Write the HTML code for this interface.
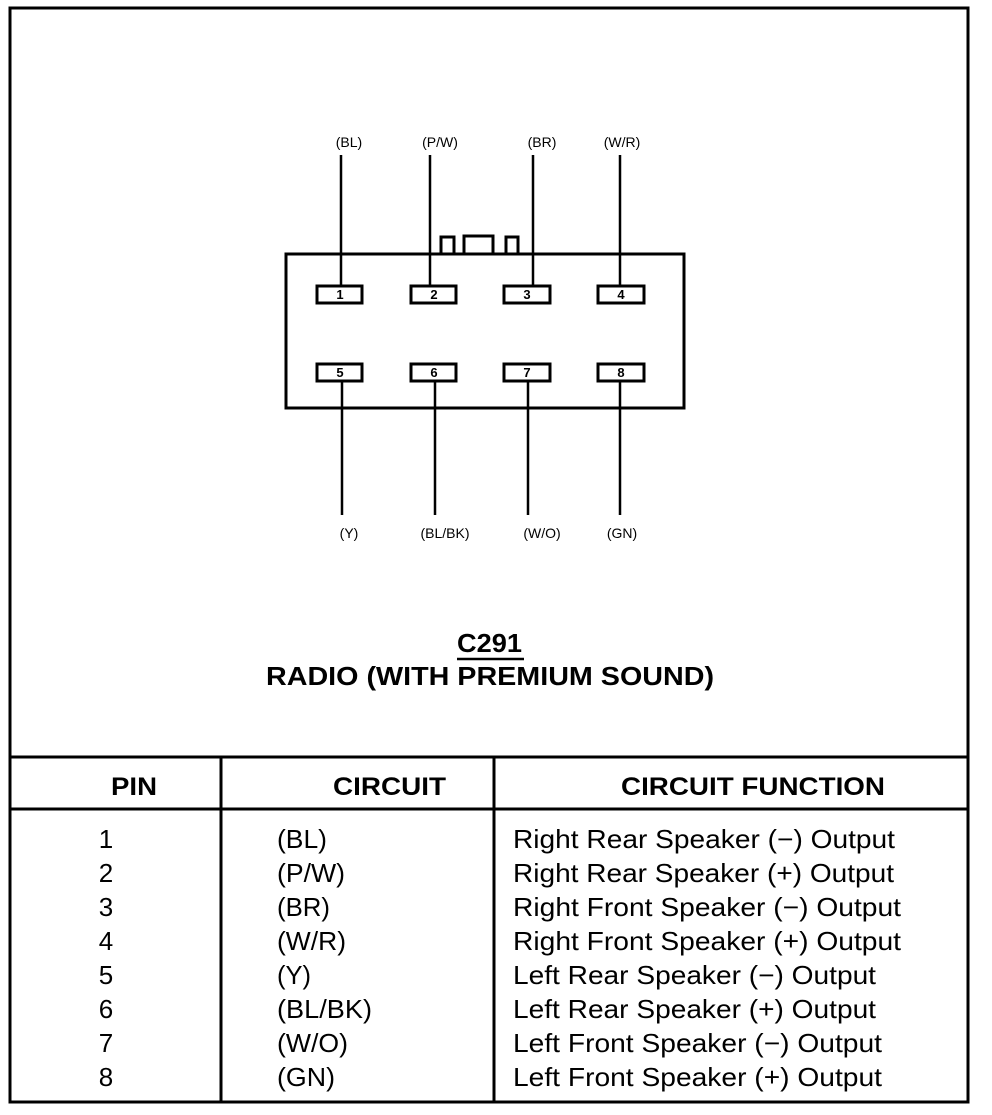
<!DOCTYPE html>
<html><head><style>
body{margin:0;background:#fff;}
svg text{font-family:"Liberation Sans",Arial,sans-serif;fill:#000;}
</style></head><body>
<svg width="992" height="1110" viewBox="0 0 992 1110" xmlns="http://www.w3.org/2000/svg">
<g stroke="#000" fill="none">
<rect x="10" y="8" width="958" height="1094" stroke-width="3"/>
<line x1="10" y1="757" x2="968" y2="757" stroke-width="3"/>
<line x1="10" y1="809" x2="968" y2="809" stroke-width="3"/>
<line x1="221" y1="757" x2="221" y2="1102" stroke-width="3"/>
<line x1="494" y1="757" x2="494" y2="1102" stroke-width="3"/>
<rect x="286" y="254" width="398" height="154" stroke-width="3"/>
<path d="M441 253 V237 H454 V253 M464 253 V236 H493 V253 M506 253 V237 H518 V253" stroke-width="3"/>
<g stroke-width="3">
<rect x="317" y="286" width="45" height="17"/>
<rect x="411" y="286" width="45" height="17"/>
<rect x="504" y="286" width="46" height="17"/>
<rect x="598" y="286" width="46" height="17"/>
<rect x="317" y="364" width="45" height="17"/>
<rect x="411" y="364" width="45" height="17"/>
<rect x="504" y="364" width="46" height="17"/>
<rect x="598" y="364" width="46" height="17"/>
</g>
<g stroke-width="2.5">
<line x1="341" y1="155" x2="341" y2="286"/>
<line x1="430" y1="155" x2="430" y2="286"/>
<line x1="533" y1="155" x2="533" y2="286"/>
<line x1="620" y1="155" x2="620" y2="286"/>
<line x1="342" y1="381" x2="342" y2="515"/>
<line x1="435" y1="381" x2="435" y2="515"/>
<line x1="528" y1="381" x2="528" y2="515"/>
<line x1="620" y1="381" x2="620" y2="515"/>
</g>
<line x1="457" y1="659" x2="524" y2="659" stroke-width="2.5"/>
</g>
<g font-size="14" text-anchor="middle">
<text x="349" y="147">(BL)</text>
<text x="440" y="147">(P/W)</text>
<text x="542" y="147">(BR)</text>
<text x="622" y="147">(W/R)</text>
<text x="349" y="538">(Y)</text>
<text x="445" y="538">(BL/BK)</text>
<text x="542" y="538">(W/O)</text>
<text x="622" y="538">(GN)</text>
</g>
<g font-size="13" font-weight="bold" text-anchor="middle">
<text x="340" y="299">1</text><text x="434" y="299">2</text><text x="527" y="299">3</text><text x="621" y="299">4</text>
<text x="340" y="377">5</text><text x="434" y="377">6</text><text x="527" y="377">7</text><text x="621" y="377">8</text>
</g>
<g font-weight="bold" lengthAdjust="spacingAndGlyphs">
<text x="457" y="652" font-size="26" textLength="65" lengthAdjust="spacingAndGlyphs">C291</text>
<text x="266" y="685" font-size="26" textLength="448" lengthAdjust="spacingAndGlyphs">RADIO (WITH PREMIUM SOUND)</text>
<text x="111" y="795" font-size="25" textLength="46" lengthAdjust="spacingAndGlyphs">PIN</text>
<text x="333" y="795" font-size="25" textLength="113" lengthAdjust="spacingAndGlyphs">CIRCUIT</text>
<text x="621" y="795" font-size="25" textLength="264" lengthAdjust="spacingAndGlyphs">CIRCUIT FUNCTION</text>
</g>
<g font-size="26">
<g text-anchor="middle">
<text x="106" y="848">1</text><text x="106" y="882">2</text><text x="106" y="916">3</text><text x="106" y="950">4</text>
<text x="106" y="984">5</text><text x="106" y="1018">6</text><text x="106" y="1052">7</text><text x="106" y="1086">8</text>
</g>
<text x="277" y="848" textLength="50" lengthAdjust="spacingAndGlyphs">(BL)</text>
<text x="277" y="882" textLength="68" lengthAdjust="spacingAndGlyphs">(P/W)</text>
<text x="277" y="916" textLength="53" lengthAdjust="spacingAndGlyphs">(BR)</text>
<text x="277" y="950" textLength="69" lengthAdjust="spacingAndGlyphs">(W/R)</text>
<text x="277" y="984" textLength="34" lengthAdjust="spacingAndGlyphs">(Y)</text>
<text x="277" y="1018" textLength="95" lengthAdjust="spacingAndGlyphs">(BL/BK)</text>
<text x="277" y="1052" textLength="71" lengthAdjust="spacingAndGlyphs">(W/O)</text>
<text x="277" y="1086" textLength="58" lengthAdjust="spacingAndGlyphs">(GN)</text>
<text x="513" y="848" textLength="382" lengthAdjust="spacingAndGlyphs">Right Rear Speaker (−) Output</text>
<text x="513" y="882" textLength="381" lengthAdjust="spacingAndGlyphs">Right Rear Speaker (+) Output</text>
<text x="513" y="916" textLength="388" lengthAdjust="spacingAndGlyphs">Right Front Speaker (−) Output</text>
<text x="513" y="950" textLength="388" lengthAdjust="spacingAndGlyphs">Right Front Speaker (+) Output</text>
<text x="513" y="984" textLength="363" lengthAdjust="spacingAndGlyphs">Left Rear Speaker (−) Output</text>
<text x="513" y="1018" textLength="363" lengthAdjust="spacingAndGlyphs">Left Rear Speaker (+) Output</text>
<text x="513" y="1052" textLength="369" lengthAdjust="spacingAndGlyphs">Left Front Speaker (−) Output</text>
<text x="513" y="1086" textLength="369" lengthAdjust="spacingAndGlyphs">Left Front Speaker (+) Output</text>
</g>
</svg>
</body></html>
